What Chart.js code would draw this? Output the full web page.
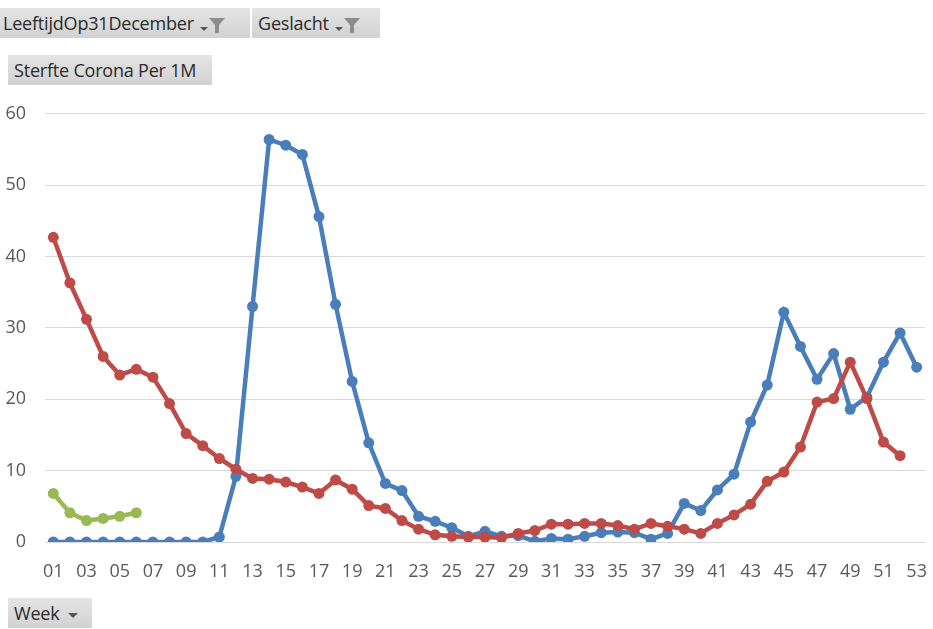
<!DOCTYPE html>
<html>
<head>
<meta charset="utf-8">
<script src="https://cdn.jsdelivr.net/npm/chart.js@4"></script>
<style>
  html, body { margin: 0; padding: 0; background: #fff; width: 933px; height: 629px; overflow: hidden; }
  body { position: relative; font-family: "Open Sans", "Noto Sans", sans-serif; color: #333; }
  .btn {
    position: absolute; height: 30px; line-height: 30px; font-size: 18px; padding: 0 6px 0 3px;
    background: linear-gradient(#e4e4e4, #d2d2d2); color: #2b2b2b; white-space: nowrap;
    box-sizing: border-box; letter-spacing: -0.2px; z-index: 1;
  }
  .btn svg { vertical-align: middle; margin-left: 4px; }
  #chartBox { position: absolute; left: 0; top: 84px; width: 938px; height: 506px; }
</style>
</head>
<body>
<div id="chartBox"><canvas id="sterfteChart"></canvas></div>
<div class="btn" style="left:0;top:8px;width:250px;">LeeftijdOp31December<svg width="30" height="20" viewBox="0 0 30 20"><path d="M2 12 L10 12 L6 16 Z" fill="#555"/><path d="M11 3 L27 3 L21 10 L21 18 L17 18 L17 10 Z" fill="#8c8c8c"/></svg></div>
<div class="btn" style="left:252px;top:8px;width:128px;padding-left:6px;">Geslacht<svg width="30" height="20" viewBox="0 0 30 20"><path d="M2 12 L10 12 L6 16 Z" fill="#555"/><path d="M11 3 L27 3 L21 10 L21 18 L17 18 L17 10 Z" fill="#8c8c8c"/></svg></div>
<div class="btn" style="left:8px;top:55px;width:204px;padding-left:6px;">Sterfte Corona Per 1M</div>
<div class="btn" style="left:8px;top:598px;width:84px;padding-left:6px;">Week<svg width="20" height="20" viewBox="0 0 20 20"><path d="M4 8 L14 8 L9 13 Z" fill="#555"/></svg></div>
<script>
// weeks 01..53
const weeks = Array.from({ length: 53 }, (_, i) => String(i + 1).padStart(2, '0'));

const blauw = [0, 0, 0, 0, 0, 0, 0, 0, 0, 0, 0.7, 9.2, 33.0, 56.4, 55.6, 54.3, 45.6, 33.3, 22.5, 13.9,
  8.2, 7.2, 3.6, 2.9, 2.0, 0.8, 1.5, 0.8, 0.9, 0.1, 0.5, 0.4, 0.8, 1.3, 1.4, 1.3, 0.4, 1.2, 5.4, 4.4,
  7.3, 9.5, 16.8, 22.0, 32.2, 27.4, 22.8, 26.4, 18.6, 20.3, 25.2, 29.3, 24.5];

const rood = [42.7, 36.3, 31.2, 26.0, 23.4, 24.2, 23.1, 19.4, 15.2, 13.5, 11.7, 10.2, 8.9, 8.8, 8.4, 7.7,
  6.8, 8.7, 7.4, 5.1, 4.7, 3.0, 1.8, 1.0, 0.8, 0.7, 0.7, 0.6, 1.2, 1.6, 2.5, 2.5, 2.6, 2.6, 2.3, 1.8,
  2.6, 2.2, 1.8, 1.2, 2.6, 3.8, 5.3, 8.5, 9.8, 13.3, 19.6, 20.1, 25.2, 20.1, 14.0, 12.1, null];

const groen = [6.8, 4.1, 3.0, 3.3, 3.6, 4.1];

const yTicks = [0, 10, 20, 30, 40, 50, 60];

function lijn(data, kleur, volgorde) {
    return {
        data: data,
        borderColor: kleur,
        backgroundColor: kleur,
        borderWidth: 4.5,
        pointRadius: 5.5,
        pointHoverRadius: 5.5,
        pointBorderWidth: 0,
        tension: 0,
        spanGaps: false,
        order: volgorde
    };
}

new Chart(document.getElementById('sterfteChart'), {
    type: 'line',
    data: {
        labels: weeks,
        datasets: [
            lijn(blauw, '#4a7ebb', 3),
            lijn(rood, '#be4b48', 2),
            lijn(groen, '#98b954', 1)
        ]
    },
    options: {
        responsive: true,
        maintainAspectRatio: false,
        animation: false,
        layout: { padding: { top: 19, right: 0, bottom: 8, left: 0 } },
        plugins: { legend: { display: false }, tooltip: { enabled: false } },
        scales: {
            x: {
                offset: true,
                grid: { display: false },
                border: { display: false },
                ticks: {
                    autoSkip: false,
                    maxRotation: 0,
                    padding: 11,
                    color: '#595959',
                    font: { family: 'Open Sans', size: 18 },
                    callback: (v, i) => (i % 2 === 0 ? weeks[i] : '')
                },
                afterFit: s => { s.height = 40; }
            },
            y: {
                min: 0,
                max: 60,
                afterBuildTicks: s => { s.ticks = yTicks.map(v => ({ value: v })); },
                grid: { color: '#d9d9d9', lineWidth: 1, drawTicks: false },
                border: { display: false },
                ticks: {
                    padding: 19,
                    color: '#595959',
                    font: { family: 'Open Sans', size: 18 }
                },
                afterFit: s => { s.width = 45; }
            }
        }
    }
});
</script>
</body>
</html>
